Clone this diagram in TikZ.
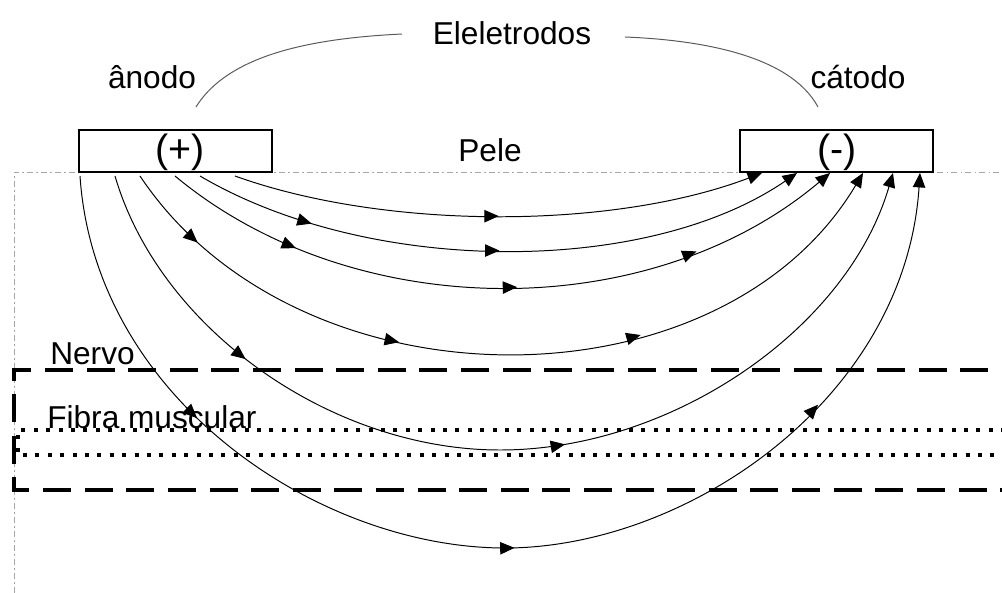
\documentclass[tikz,border=0pt]{standalone}
\usepackage{fontspec}
\setmainfont{Liberation Sans}
\usetikzlibrary{arrows.meta,decorations.markings}
\begin{document}
\begin{tikzpicture}[x=0.025cm,y=-0.025cm,
  >={Triangle[length=0.36cm,width=0.31cm]},
  lbl/.style={font=\fontsize{22.5}{27}\selectfont, inner sep=0},
  sign/.style={font=\fontsize{28}{32}\selectfont, inner sep=0},
  elec/.style={draw, line width=1.4pt, minimum width=4.8cm, minimum height=1.03cm, inner sep=0},
  field/.style={line width=0.7pt, ->},
  mid/.style={postaction={decorate, decoration={markings, mark=at position #1 with {\arrow{>}}}}},
  skin/.style={draw=gray!70, line width=0.6pt, dash pattern=on 0.15cm off 0.08cm on 0.04cm off 0.08cm},
  nerve/.style={line width=2.8pt, dash pattern=on 0.7cm off 0.34cm},
  fibre/.style={line width=3pt, dash pattern=on 0.1cm off 0.21cm},
  brace/.style={line width=0.7pt, gray!70!black}]
\useasboundingbox (0,0) rectangle (1002,593);
\begin{scope}
\clip (0,0) rectangle (1002,593);
% skin
\draw[skin] (14,593) -- (14,172) -- (1010,172);
% nerve and muscle fibre
\draw[nerve] (1030,370) -- (14,370) -- (14,490) -- (1030,490);
\draw[fibre] (1030,430) -- (18,430) -- (18,455) -- (1030,455);
\end{scope}
% labels
\node[lbl] (ele) at (512,33) {Eleletrodos};
\node[lbl] (ano) at (152,77) {ânodo};
\node[lbl] (cat) at (858,77) {cátodo};
\node[lbl] (pele) at (490,150) {Pele};
\node[lbl, anchor=west] (nervo) at (50,354) {Nervo};
\node[lbl, anchor=west] (fibra) at (47,417) {Fibra muscular};
% electrodes
\node[elec, fill=white] (an) at (175.5,151) {};
\node[elec, fill=white] (ca) at (836.5,151) {};
\node[sign] (anS) at (180,152) {(+)};
\node[sign] (caS) at (837,152) {(-)};
% brace arcs
\coordinate (bl1) at (196,107);
\coordinate (bl2) at (402,34);
\coordinate (br1) at (625,37);
\coordinate (br2) at (818,107);
\draw[brace] (bl1) .. controls (230,52) and (320,38) .. (bl2);
\draw[brace] (br1) .. controls (700,40) and (790,55) .. (br2);
% field lines
\coordinate (a1) at (235,176); \coordinate (c1) at (762,173);
\coordinate (a2) at (200,176); \coordinate (c2) at (797,173);
\coordinate (a3) at (175,176); \coordinate (c3) at (830,173);
\coordinate (a4) at (140,176); \coordinate (c4) at (863,173);
\coordinate (a5) at (115,176); \coordinate (c5) at (893,173);
\coordinate (a6) at (80,176);  \coordinate (c6) at (920,173);
\draw[field, mid=0.5] (a1) .. controls (385,230) and (612,230) .. (c1);
\draw[field, mid=0.195, mid=0.5] (a2) .. controls (370,276) and (647,276) .. (c2);
\draw[field, mid=0.2, mid=0.52, mid=0.78] (a3) .. controls (354,325) and (650,325) .. (c3);
\draw[field, mid=0.105, mid=0.375, mid=0.665] (a4) .. controls (298,413) and (720,413) .. (c4);
\draw[field, mid=0.225, mid=0.56] (a5) .. controls (160,330) and (332,450) .. (500,450)
      .. controls (671,450) and (847,330) .. (c5);
\draw[field, mid=0.224, mid=0.51, mid=0.79] (a6) .. controls (95,400) and (320,548) .. (505,548)
      .. controls (686,548) and (905,400) .. (c6);
\end{tikzpicture}
\end{document}
